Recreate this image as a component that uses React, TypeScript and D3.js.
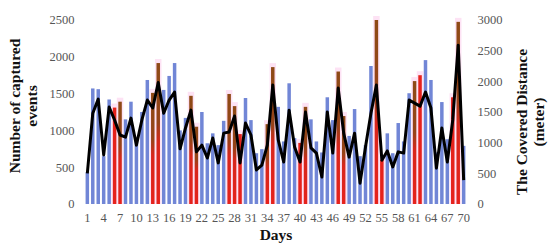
import React, { useEffect, useRef } from "react";
import * as d3 from "d3";

// day index 1..70
const days: number[] = d3.range(1, 71);

// number of captured events (left axis)
const events: number[] = [
  430, 1570, 1560, 650, 1420, 1310, 1390, 1150, 1390, 900,
  1250, 1685, 1510, 1915, 1550, 1740, 1915, 1000, 1170, 1470,
  1050, 1250, 825, 960, 800, 1130, 1495, 1330, 950, 1440,
  1140, 690, 745, 1085, 1860, 1320, 850, 1640, 895, 830,
  1320, 1150, 850, 700, 1450, 1140, 1800, 1195, 925, 1290,
  650, 800, 1875, 2500, 600, 960, 690, 1100, 850, 1505,
  1670, 1750, 1955, 1685, 700, 1385, 880, 1450, 2475, 790,
];

// bar colour group: b = blue, r = red, o = brown over red
const groups: string[] = [
  "b", "b", "b", "b", "b", "r", "o", "b", "b", "b",
  "b", "b", "o", "o", "b", "b", "b", "b", "b", "o",
  "o", "b", "b", "b", "b", "b", "o", "o", "r", "b",
  "b", "b", "b", "o", "o", "b", "b", "b", "b", "r",
  "o", "b", "b", "b", "b", "b", "o", "o", "b", "b",
  "b", "b", "b", "o", "r", "b", "b", "b", "b", "b",
  "o", "r", "b", "b", "b", "b", "b", "r", "o", "b",
];

// covered distance in meters (right axis)
const distance: number[] = [
  500, 1480, 1710, 800, 1580, 1370, 1125, 1090, 1400, 960,
  1370, 1695, 1565, 1980, 1480, 1695, 1825, 900, 1240, 1530,
  850, 960, 750, 1075, 670, 1155, 1175, 1435, 670, 1320,
  1125, 555, 635, 960, 1940, 1045, 685, 1530, 930, 685,
  1500, 915, 830, 440, 1500, 830, 1890, 1155, 765, 1155,
  340, 930, 1480, 1940, 715, 865, 605, 850, 830, 1695,
  1645, 1595, 1825, 1565, 585, 1240, 685, 1370, 2590, 390,
];

const leftTicks: number[] = [0, 500, 1000, 1500, 2000, 2500];
const rightTicks: number[] = [0, 500, 1000, 1500, 2000, 2500, 3000];
const dayTicks: number[] = d3.range(1, 71, 3);

const App = () => {
  const svgRef = useRef<SVGSVGElement | null>(null);
  const width = 550;
  const height = 251;
  const plot = { left: 84.6, right: 466.4, top: 20, bottom: 204 };

  useEffect(() => {
    const svg = d3.select(svgRef.current);
    svg.selectAll("*").remove();

    const x = d3
      .scaleBand<number>()
      .domain(days)
      .range([plot.left, plot.right])
      .paddingInner(0.36)
      .paddingOuter(0.18);

    const yL = d3.scaleLinear().domain([0, 2500]).range([plot.bottom, plot.top]);
    const yR = d3.scaleLinear().domain([0, 3000]).range([plot.bottom, plot.top]);

    const defs = svg.append("defs");
    const grad = defs
      .append("linearGradient")
      .attr("id", "brownRed")
      .attr("x1", 0)
      .attr("y1", 0)
      .attr("x2", 0)
      .attr("y2", 1);
    grad.append("stop").attr("offset", "0%").attr("stop-color", "#8e4a16");
    grad.append("stop").attr("offset", "42%").attr("stop-color", "#964318");
    grad.append("stop").attr("offset", "56%").attr("stop-color", "#d8261c");
    grad.append("stop").attr("offset", "100%").attr("stop-color", "#e5221c");

    const rows = days.map((d, i) => ({ day: d, v: events[i], g: groups[i], m: distance[i] }));

    // faint halos around the red bars
    svg
      .append("g")
      .attr("class", "halos")
      .selectAll("rect")
      .data(rows.filter((r) => r.g !== "b"))
      .join("rect")
      .attr("x", (d) => (x(d.day) as number) - 1.5)
      .attr("y", (d) => yL(d.v) - 4)
      .attr("width", x.bandwidth() + 3)
      .attr("height", (d) => yL(0) - yL(d.v) + 4)
      .attr("fill", "#fde2f4");

    svg
      .append("g")
      .attr("class", "bars")
      .selectAll("rect")
      .data(rows)
      .join("rect")
      .attr("x", (d) => x(d.day) as number)
      .attr("y", (d) => yL(d.v))
      .attr("width", x.bandwidth())
      .attr("height", (d) => yL(0) - yL(d.v))
      .attr("fill", (d) =>
        d.g === "b" ? "#7186d6" : d.g === "r" ? "#e5221c" : "url(#brownRed)"
      );

    const line = d3
      .line<(typeof rows)[number]>()
      .x((d) => (x(d.day) as number) + x.bandwidth() / 2)
      .y((d) => yR(d.m));

    svg
      .append("path")
      .datum(rows)
      .attr("fill", "none")
      .attr("stroke", "#000")
      .attr("stroke-width", 3)
      .attr("stroke-linejoin", "round")
      .attr("d", line);

    const tickFont = "Liberation Serif, Times New Roman, DejaVu Serif, serif";

    svg
      .append("g")
      .attr("class", "y-left")
      .selectAll("text")
      .data(leftTicks)
      .join("text")
      .attr("x", 74.5)
      .attr("y", (d) => yL(d))
      .attr("dy", "0.35em")
      .attr("text-anchor", "end")
      .attr("font-family", tickFont)
      .attr("font-size", 12.5)
      .attr("fill", "#555")
      .text((d) => d);

    svg
      .append("g")
      .attr("class", "y-right")
      .selectAll("text")
      .data(rightTicks)
      .join("text")
      .attr("x", 477.5)
      .attr("y", (d) => yR(d))
      .attr("dy", "0.35em")
      .attr("text-anchor", "start")
      .attr("font-family", tickFont)
      .attr("font-size", 12.5)
      .attr("fill", "#555")
      .text((d) => d);

    svg
      .append("g")
      .attr("class", "x-axis")
      .selectAll("text")
      .data(dayTicks)
      .join("text")
      .attr("x", (d) => (x(d) as number) + x.bandwidth() / 2)
      .attr("y", 222)
      .attr("text-anchor", "middle")
      .attr("font-family", tickFont)
      .attr("font-size", 12.5)
      .attr("fill", "#555")
      .text((d) => d);

    const title = (cx: number, cy: number, lines: string[]) => {
      const t = svg
        .append("text")
        .attr("transform", `translate(${cx},${cy}) rotate(-90)`)
        .attr("text-anchor", "middle")
        .attr("font-family", tickFont)
        .attr("font-weight", "bold")
        .attr("font-size", 15.5)
        .attr("fill", "#111");
      lines.forEach((s, i) => {
        t.append("tspan")
          .attr("x", 0)
          .attr("y", i * 17)
          .text(s);
      });
    };

    title(20, 106, ["Number of captured", "events"]);
    title(527, 122, ["The Covered Distance", "(meter)"]);

    svg
      .append("text")
      .attr("x", 276)
      .attr("y", 240)
      .attr("text-anchor", "middle")
      .attr("font-family", tickFont)
      .attr("font-weight", "bold")
      .attr("font-size", 15.5)
      .attr("fill", "#111")
      .text("Days");
  }, []);

  return (
    <svg
      ref={svgRef}
      width={width}
      height={height}
      style={{ position: "absolute", left: 0, top: 0, background: "#fff" }}
    />
  );
};

export default App;
